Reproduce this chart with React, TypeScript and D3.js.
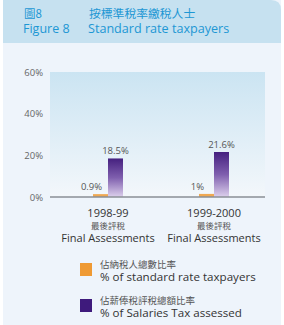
import React from "react";
import * as d3 from "d3";

const categories = ["1998-99", "1999-2000"];
const categoriesZh = ["最後評稅", "最後評稅"];
const categoriesEn = ["Final Assessments", "Final Assessments"];
const standardRate = [0.9, 1.0];
const standardRateLabels = ["0.9%", "1%"];
const salariesTax = [18.5, 21.6];
const salariesTaxLabels = ["18.5%", "21.6%"];
const yTicks = [0, 20, 40, 60];
const legendZh = ["佔納稅人總數比率", "佔薪俸稅評稅總額比率"];
const legendEn = ["% of standard rate taxpayers", "% of Salaries Tax assessed"];

const W = 284;
const H = 325;
const plot = { left: 50, right: 265, top: 72, bottom: 197 };
const LAT = "'Open Sans', 'Noto Sans', sans-serif";
const CJK = "'Noto Sans CJK TC', sans-serif";

export default function App() {
  const y = d3.scaleLinear().domain([0, 60]).range([plot.bottom, plot.top]);
  const x = d3.scaleBand<string>().domain(categories).range([55, 267]);
  const barW = 15;
  const orange = "#ef9a34";
  const purple = "#3e1a7c";

  return (
    <svg width={W} height={H} style={{ position: "absolute", left: 0, top: 0 }}>
      <defs>
        <linearGradient id="plotBg" x1="0" y1="0" x2="0" y2="1">
          <stop offset="0" stopColor="#cbe4f2" />
          <stop offset="1" stopColor="#f3f7fb" />
        </linearGradient>
        <linearGradient id="purpleBar" x1="0" y1="0" x2="0" y2="1">
          <stop offset="0" stopColor="#45207f" />
          <stop offset="0.5" stopColor="#7f5fae" />
          <stop offset="1" stopColor="#dcd0ec" />
        </linearGradient>
      </defs>
      {/* card body */}
      <rect x={3} y={0} width={278} height={H} fill="#eef4fb" />
      {/* header band */}
      <path d={`M3,0 H271 Q281,0 281,10 V43 H3 Z`} fill="#c6e1f0" />
      <text x={24} y={18} fontFamily={CJK} fontSize={11.5} fill="#1d97d4">圖8</text>
      <text x={89} y={18} fontFamily={CJK} fontSize={11.8} fill="#1d97d4">按標準稅率繳稅人士</text>
      <text x={23} y={33} fontFamily={LAT} fontSize={12.5} fill="#1d97d4">Figure 8</text>
      <text x={88} y={33} fontFamily={LAT} fontSize={12.6} fill="#1d97d4">Standard rate taxpayers</text>

      {/* plot area */}
      <rect x={plot.left} y={plot.top} width={plot.right - plot.left} height={plot.bottom - plot.top} fill="url(#plotBg)" />
      {yTicks.map((t) => (
        <text key={t} x={43} y={y(t) + 3.5} textAnchor="end" fontFamily={LAT} fontSize={9.5} fill="#666">
          {t}%
        </text>
      ))}

      {categories.map((c, i) => {
        const cx = (x(c) as number) + x.bandwidth() / 2;
        const ox = cx - barW;
        const px = cx;
        const oy = y(standardRate[i]);
        const py = y(salariesTax[i]);
        return (
          <g key={c}>
            <rect x={ox} y={oy - 1} width={barW} height={plot.bottom - oy + 1} fill={orange} opacity={0.85} />
            <rect x={px} y={py} width={barW} height={plot.bottom - py} fill="url(#purpleBar)" />
            <text x={ox + barW / 2 - 9} y={oy - 5} textAnchor="middle" fontFamily={LAT} fontSize={9.5} fill="#555">
              {standardRateLabels[i]}
            </text>
            <text x={px + barW / 2} y={py - 4} textAnchor="middle" fontFamily={LAT} fontSize={9.5} fill="#555">
              {salariesTaxLabels[i]}
            </text>
            <text x={cx} y={217} textAnchor="middle" fontFamily={LAT} fontSize={11} fill="#333">{c}</text>
            <text x={cx} y={229} textAnchor="middle" fontFamily={CJK} fontSize={8.5} fill="#555">{categoriesZh[i]}</text>
            <text x={cx} y={241.5} textAnchor="middle" fontFamily={LAT} fontSize={11} fill="#333">{categoriesEn[i]}</text>
          </g>
        );
      })}
      <line x1={plot.left} x2={plot.right} y1={plot.bottom} y2={plot.bottom} stroke="#8a8f96" strokeWidth={1.5} />

      {/* legend */}
      {[orange, purple].map((col, i) => {
        const top = 263 + i * 36;
        return (
          <g key={i}>
            <rect x={80} y={top} width={12} height={13} fill={col} />
            <text x={100} y={top + 4.5} fontFamily={CJK} fontSize={9.5} fill="#555">{legendZh[i]}</text>
            <text x={100} y={top + 18} fontFamily={LAT} fontSize={11.6} fill="#333">{legendEn[i]}</text>
          </g>
        );
      })}
    </svg>
  );
}
